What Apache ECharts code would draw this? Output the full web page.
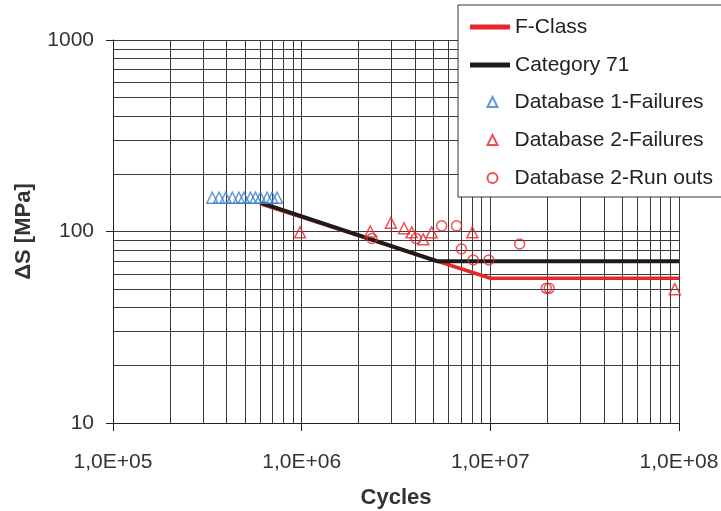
<!DOCTYPE html>
<html>
<head>
<meta charset="utf-8">
<script src="https://cdn.jsdelivr.net/npm/echarts@6/dist/echarts.min.js"></script>
<style>
  html, body { margin: 0; padding: 0; background: #fff; }
  #chart { width: 721px; height: 511px; }
</style>
</head>
<body>
<div id="chart"></div>
<script>
// Tick labels
const xTickLabels = ['1,0E+05', '1,0E+06', '1,0E+07', '1,0E+08'];
const yTickLabels = ['10', '100', '1000'];

// S-N design curves (cycles, stress range in MPa)
const fClassN = [6.0e5, 1.0e7, 1.0e8];
const fClassS = [140, 57, 57];
const cat71N = [6.1e5, 5.2e6, 1.0e8];
const cat71S = [141, 70, 70];

// Test results
const db1FailN = [3.36e5, 3.65e5, 3.96e5, 4.29e5, 4.65e5, 4.94e5, 5.36e5, 5.69e5, 6.05e5, 6.56e5, 6.98e5, 7.41e5];
const db1FailS = [150, 150, 150, 150, 150, 150, 150, 150, 150, 150, 150, 150];

const db2FailN = [9.8e5, 2.31e6, 2.97e6, 3.49e6, 3.83e6, 4.41e6, 4.89e6, 8.03e6, 9.5e7];
const db2FailS = [99, 100, 111, 104, 99, 91, 99, 99, 50];

const db2RunN = [2.36e6, 4.04e6, 5.52e6, 6.62e6, 7.03e6, 8.11e6, 9.82e6, 1.43e7, 1.98e7, 2.05e7];
const db2RunS = [92, 92, 107, 107, 81, 71, 71, 86, 50.5, 50.5];

const zip = (a, b) => a.map((v, i) => [v, b[i]]);

// Intermediate (2..9) grid positions for each decade of the log axes
const minorLines = (fromExp, toExp) => {
  const out = [];
  for (let e = fromExp; e < toExp; e++) {
    for (let k = 2; k <= 9; k++) out.push(k * Math.pow(10, e));
  }
  return out;
};
const minorX = minorLines(5, 8);
const minorY = minorLines(1, 3);

const FONT = 'Liberation Sans, Arial, Helvetica, sans-serif';
const GRID_COLOR = '#3a3a3a';
const BLUE = '#3a7fcc';
const RED = '#e8262b';
const BLACK = '#1c1c1c';

const chart = echarts.init(document.getElementById('chart'), null, { renderer: 'canvas' });

chart.setOption({
  animation: false,
  backgroundColor: '#ffffff',
  textStyle: { fontFamily: FONT },
  grid: {
    left: 113, right: 42, top: 40, bottom: 88,
    containLabel: false,
    outerBoundsMode: 'none'
  },
  legend: [
    {
      data: [
        { name: 'F-Class', icon: 'rect', itemStyle: { color: RED } },
        { name: 'Category 71', icon: 'rect', itemStyle: { color: BLACK } }
      ],
      orient: 'vertical',
      left: 458, top: 5,
      padding: [11, 220, 121, 12],
      itemWidth: 40, itemHeight: 5, itemGap: 16,
      backgroundColor: '#ffffff',
      borderColor: '#333333', borderWidth: 1,
      textStyle: { fontFamily: FONT, fontSize: 21, color: '#222', lineHeight: 22 },
      selectedMode: false,
      z: 4
    },
    {
      data: ['Database 1-Failures', 'Database 2-Failures', 'Database 2-Run outs'],
      orient: 'vertical',
      left: 485, top: 91,
      padding: 0,
      itemWidth: 10, itemHeight: 10, itemGap: 16,
      textStyle: { fontFamily: FONT, fontSize: 21, color: '#222', lineHeight: 22, padding: [0, 0, 0, 12] },
      selectedMode: false,
      z: 5
    }
  ],
  xAxis: {
    type: 'log', logBase: 10, min: 1e5, max: 1e8,
    name: 'Cycles', nameLocation: 'middle', nameGap: 64,
    nameTextStyle: { fontFamily: FONT, fontSize: 22, fontWeight: 'bold', color: '#333' },
    axisLine: { show: true, lineStyle: { color: '#222', width: 1 } },
    axisTick: { show: true, length: 8, lineStyle: { color: '#222' } },
    axisLabel: {
      margin: 29, fontSize: 21, color: '#333', fontFamily: FONT,
      formatter: v => xTickLabels[Math.round(Math.log10(v)) - 5]
    },
    splitLine: { show: true, lineStyle: { color: GRID_COLOR, width: 1 } },
    minorTick: { show: false },
    minorSplitLine: { show: false }
  },
  yAxis: {
    type: 'log', logBase: 10, min: 10, max: 1000,
    name: 'ΔS [MPa]', nameLocation: 'middle', nameGap: 78, nameRotate: 90,
    nameTextStyle: { fontFamily: FONT, fontSize: 22, fontWeight: 'bold', color: '#333' },
    axisLine: { show: true, lineStyle: { color: '#222', width: 1 } },
    axisTick: { show: true, length: 7, lineStyle: { color: '#222' } },
    axisLabel: {
      margin: 19, fontSize: 21, color: '#333', fontFamily: FONT,
      formatter: v => yTickLabels[Math.round(Math.log10(v)) - 1]
    },
    splitLine: { show: true, lineStyle: { color: GRID_COLOR, width: 1 } },
    minorTick: { show: false },
    minorSplitLine: { show: false }
  },
  series: [
    {
      // carries the intermediate log grid lines
      name: 'grid-minor',
      type: 'line',
      data: [],
      silent: true,
      markLine: {
        silent: true,
        z: 1,
        animation: false,
        symbol: ['none', 'none'],
        label: { show: false },
        emphasis: { disabled: true },
        lineStyle: { color: GRID_COLOR, width: 1, type: 'solid' },
        data: [
          ...minorX.map(v => ({ xAxis: v })),
          ...minorY.map(v => ({ yAxis: v }))
        ]
      }
    },
    {
      name: 'F-Class',
      type: 'line',
      data: zip(fClassN, fClassS),
      symbol: 'none',
      lineStyle: { color: RED, width: 3.5 },
      itemStyle: { color: RED },
      z: 3
    },
    {
      name: 'Category 71',
      type: 'line',
      data: zip(cat71N, cat71S),
      symbol: 'none',
      lineStyle: { color: BLACK, width: 4 },
      itemStyle: { color: BLACK },
      z: 4
    },
    {
      name: 'Database 1-Failures',
      type: 'scatter',
      data: zip(db1FailN, db1FailS),
      symbol: 'triangle',
      symbolSize: 11,
      itemStyle: { color: 'none', borderColor: BLUE, borderWidth: 1.5 },
      z: 5
    },
    {
      name: 'Database 2-Failures',
      type: 'scatter',
      data: zip(db2FailN, db2FailS),
      symbol: 'triangle',
      symbolSize: 11,
      itemStyle: { color: 'none', borderColor: RED, borderWidth: 1.5 },
      z: 5
    },
    {
      name: 'Database 2-Run outs',
      type: 'scatter',
      data: zip(db2RunN, db2RunS),
      symbol: 'circle',
      symbolSize: 10,
      itemStyle: { color: 'none', borderColor: RED, borderWidth: 1.5 },
      z: 5
    }
  ]
});
</script>
</body>
</html>
